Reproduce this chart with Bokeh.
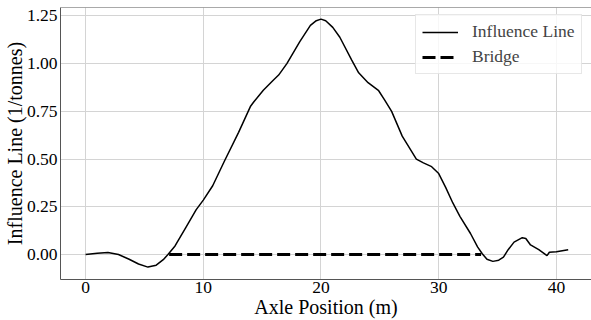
from bokeh.plotting import figure
from bokeh.models import Span, Legend, LegendItem, FixedTicker, PrintfTickFormatter, Range1d
from bokeh.embed import file_html
from bokeh.resources import INLINE

# Influence line data (axle position in m, influence in 1/tonnes)
axle_pos = [0.0, 1.0, 1.9, 2.8, 3.7, 4.5, 5.3, 6.0, 6.6, 7.0, 7.6, 8.5, 9.4, 10.0,
            10.8, 11.8, 13.0, 14.0, 14.3, 15.1, 15.9, 16.4, 17.1, 18.2, 19.1, 19.6,
            20.0, 20.4, 21.0, 21.6, 22.6, 23.2, 24.0, 24.9, 25.4, 26.0, 26.9, 27.5,
            28.1, 28.7, 29.4, 30.0, 30.6, 31.2, 31.8, 32.7, 33.3, 33.7, 34.1, 34.6,
            35.1, 35.5, 35.9, 36.4, 37.1, 37.4, 37.8, 38.5, 39.2, 39.4, 40.0, 41.0]
influence = [0.0, 0.006, 0.01, 0.0, -0.025, -0.05, -0.066, -0.056, -0.027, 0.0, 0.045,
             0.14, 0.235, 0.285, 0.36, 0.49, 0.64, 0.775, 0.80, 0.86, 0.91, 0.94, 1.0,
             1.115, 1.20, 1.225, 1.233, 1.225, 1.19, 1.138, 1.02, 0.952, 0.90, 0.858,
             0.81, 0.75, 0.62, 0.56, 0.50, 0.48, 0.46, 0.424, 0.35, 0.27, 0.2, 0.11,
             0.04, 0.004, -0.025, -0.036, -0.03, -0.014, 0.025, 0.065, 0.088, 0.084,
             0.05, 0.025, -0.006, 0.012, 0.014, 0.025]

bridge_x = [7.1, 33.6]
bridge_y = [0.0, 0.0]

x_ticks = [0, 10, 20, 30, 40]
y_ticks = [0.0, 0.25, 0.5, 0.75, 1.0, 1.25]

FONT = "Liberation Serif"

p = figure(width=591, height=320, output_backend="svg", toolbar_location=None,
           x_range=Range1d(-2.13, 42.98), y_range=Range1d(-0.131, 1.294),
           min_border_left=0, min_border_right=0, min_border_top=7, min_border_bottom=0)

p.outline_line_color = None
p.background_fill_color = "white"
p.border_fill_color = "white"

r1 = p.line(axle_pos, influence, line_color="black", line_width=1.5)
r2 = p.line(bridge_x, bridge_y, line_color="black", line_width=3, line_dash="13 5")

top_spine = Span(location=1.294, dimension="width", line_color="#555555", line_width=1)
p.add_layout(top_spine)

for ax in (p.xaxis[0], p.yaxis[0]):
    ax.axis_line_color = "#555555"
    ax.major_tick_line_color = None
    ax.minor_tick_line_color = None
    ax.major_tick_out = 0
    ax.major_tick_in = 0
    ax.minor_tick_out = 0
    ax.minor_tick_in = 0
    ax.major_label_text_font = FONT
    ax.major_label_text_font_size = "17.5px"
    ax.major_label_text_color = "black"
    ax.axis_label_text_font = FONT
    ax.axis_label_text_font_size = "20px"
    ax.axis_label_text_font_style = "normal"
    ax.axis_label_text_color = "black"

p.xaxis.ticker = FixedTicker(ticks=x_ticks)
p.yaxis.ticker = FixedTicker(ticks=y_ticks)
p.yaxis.formatter = PrintfTickFormatter(format="%.2f")
p.xaxis.axis_label = "Axle Position (m)"
p.yaxis.axis_label = "Influence Line (1/tonnes)"
p.xaxis.major_label_standoff = 2
p.xaxis.axis_label_standoff = 0
p.yaxis.major_label_standoff = 3
p.yaxis.axis_label_standoff = -2

p.xgrid.ticker = FixedTicker(ticks=x_ticks)
p.ygrid.ticker = FixedTicker(ticks=y_ticks)
p.grid.grid_line_color = "#d4d4d4"
p.grid.grid_line_width = 1

legend = Legend(items=[LegendItem(label="Influence Line", renderers=[r1]),
                       LegendItem(label="Bridge", renderers=[r2])],
                location=(355, 205))
legend.label_text_font = FONT
legend.label_text_font_size = "17.5px"
legend.glyph_width = 36
legend.glyph_height = 20
legend.label_height = 20
legend.label_standoff = 14
legend.spacing = 4
legend.padding = 6
legend.margin = 0
legend.border_line_color = "#d0d0d0"
legend.background_fill_alpha = 0.8
p.add_layout(legend, "center")

open("out.html", "w").write(file_html(p, INLINE))
